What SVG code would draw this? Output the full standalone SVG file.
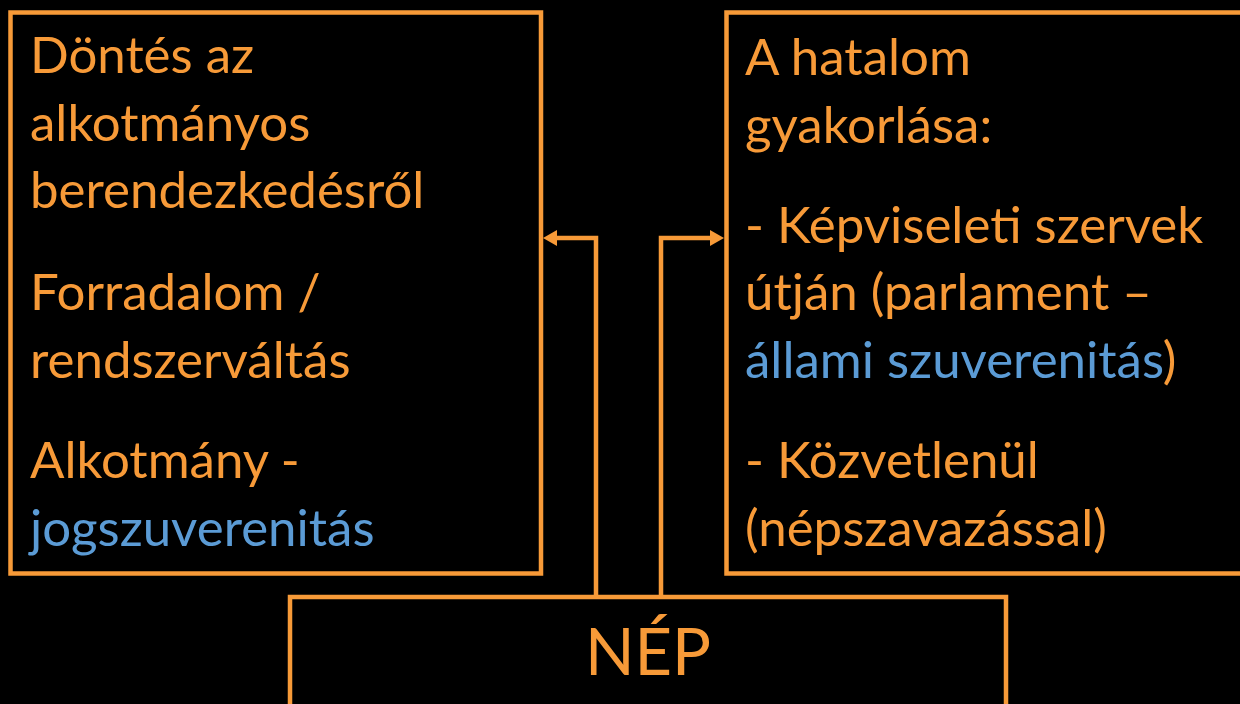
<svg xmlns="http://www.w3.org/2000/svg" width="1240" height="704" viewBox="0 0 1240 704">
<defs>
<style>
.box{fill:none;stroke:#F79A38;stroke-width:4.5}
.t{font-family:Lato,"Liberation Sans",sans-serif;font-size:51px;fill:#F79A38}
.b{fill:#5B9BD5}
.big{font-family:Lato,"Liberation Sans",sans-serif;font-size:65px;fill:#F79A38;text-anchor:middle}
.conn{fill:none;stroke:#F79A38;stroke-width:4.5}
</style>
<marker id="ah" viewBox="0 0 14 16" markerWidth="14" markerHeight="16" refX="0" refY="8" orient="auto" markerUnits="userSpaceOnUse">
<path d="M0,0 L14,8 L0,16 z" fill="#F79A38"/>
</marker>
</defs>
<rect x="0" y="0" width="1240" height="704" fill="#000"/>
<g id="connectors">
<path class="conn" d="M596,597 V238 H557" marker-end="url(#ah)"/>
<path class="conn" d="M661,597 V238 H710" marker-end="url(#ah)"/>
</g>
<g id="node-dontes">
<rect class="box" x="10.5" y="12.5" width="530.5" height="561"/>
<text class="t" x="30" y="73">Döntés az</text>
<text class="t" x="30" y="140.5">alkotmányos</text>
<text class="t" x="30" y="208">berendezkedésről</text>
<text class="t" x="30" y="310">Forradalom /</text>
<text class="t" x="30" y="377.5">rendszerváltás</text>
<text class="t" x="30" y="478">Alkotmány -</text>
<text class="t b" x="30" y="545.5">jogszuverenitás</text>
</g>
<g id="node-hatalom">
<rect class="box" x="726.5" y="12.5" width="540" height="561"/>
<text class="t" x="745" y="75">A hatalom</text>
<text class="t" x="745" y="142.5">gyakorlása:</text>
<text class="t" x="745" y="243">- Képviseleti szervek</text>
<text class="t" x="745" y="310">útján (parlament –</text>
<text class="t" x="745" y="377.5"><tspan class="b">állami szuverenitás</tspan>)</text>
<text class="t" x="745" y="478">- Közvetlenül</text>
<text class="t" x="745" y="545.5">(népszavazással)</text>
</g>
<g id="node-nep">
<rect class="box" x="290" y="597" width="716" height="200"/>
<text class="big" x="648" y="675">NÉP</text>
</g>
</svg>
